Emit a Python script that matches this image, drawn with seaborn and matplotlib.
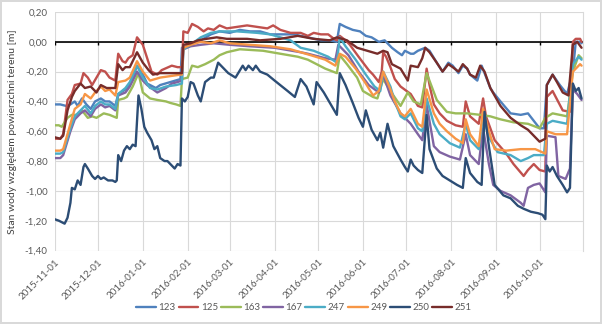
import matplotlib
matplotlib.use("Agg")
import matplotlib.pyplot as plt
import matplotlib.transforms as mtransforms
import seaborn as sns
import pandas as pd

START = pd.Timestamp("2015-11-01")
END_DAY = 365

series_names = ["123", "125", "163", "167", "247", "249", "250", "251"]
colors = ["#4F81BD", "#C0504D", "#9BBB59", "#8064A2", "#4BACC6", "#F79646", "#2C4D75", "#772C2A"]
tick_dates = ["2015-11-01", "2015-12-01", "2016-01-01", "2016-02-01", "2016-03-01", "2016-04-01",
              "2016-05-01", "2016-06-01", "2016-07-01", "2016-08-01", "2016-09-01", "2016-10-01"]
y_ticks = [0.20, 0.00, -0.20, -0.40, -0.60, -0.80, -1.00, -1.20, -1.40]
y_label = "Stan wody względem powierzchni terenu [m]"

# (day offset from 2015-11-01, water level [m])
s123 = [(0,-0.42),(4,-0.42),(8,-0.43),(11,-0.42),(14,-0.40),(16,-0.43),(19,-0.38),(22,-0.42),(25,-0.45),(28,-0.40),
        (32,-0.38),(35,-0.40),(38,-0.40),(42,-0.43),(44,-0.35),(49,-0.32),(52,-0.29),(57,-0.16),(61,-0.22),(64,-0.28),
        (70,-0.31),(73,-0.29),(80,-0.27),(87,-0.25),(88,-0.04),(94,-0.02),(101,0.01),(108,0.05),(114,0.07),(121,0.06),
        (128,0.08),(135,0.07),(142,0.07),(149,0.05),(156,0.05),(165,0.05),(175,0.03),(184,0.01),(190,0.01),(195,0.00),
        (197,0.12),(201,0.10),(206,0.08),(211,0.07),(215,0.04),(219,0.03),(224,0.00),(228,0.01),(233,-0.04),(237,-0.07),
        (240,-0.09),(242,-0.06),(246,-0.08),(248,-0.08),(251,-0.06),(256,-0.04),(259,-0.06),(264,-0.14),(268,-0.20),
        (272,-0.14),(275,-0.16),(279,-0.21),(282,-0.16),(285,-0.18),(287,-0.22),(292,-0.26),(295,-0.16),(297,-0.21),
        (301,-0.31),(303,-0.34),(308,-0.40),(315,-0.48),(322,-0.49),(327,-0.48),(331,-0.53),(335,-0.58),(338,-0.58),
        (340,-0.29),(344,-0.22),(349,-0.29),(354,-0.35),(358,-0.20),(360,0.00),(363,0.00),(364,-0.01)]

s125 = [(0,-0.65),(4,-0.65),(6,-0.62),(9,-0.39),(12,-0.35),(14,-0.29),(18,-0.28),(20,-0.21),(23,-0.24),(26,-0.29),
        (29,-0.24),(32,-0.19),(35,-0.20),(38,-0.24),(42,-0.26),(44,-0.08),(47,-0.13),(49,-0.14),(51,-0.11),(54,-0.09),
        (57,0.03),(61,-0.02),(64,-0.11),(67,-0.20),(71,-0.22),(74,-0.19),(81,-0.16),(85,-0.17),(88,-0.17),(89,0.07),
        (92,0.06),(95,0.12),(99,0.10),(103,0.07),(106,0.09),(110,0.08),(114,0.11),(119,0.09),(126,0.10),(133,0.11),
        (140,0.10),(147,0.09),(151,0.11),(156,0.08),(163,0.06),(170,0.06),(175,0.04),(179,0.06),(184,0.05),(189,0.05),
        (193,0.02),(195,0.01),(197,0.04),(201,0.01),(204,-0.02),(210,-0.10),(217,-0.19),(220,-0.22),(224,-0.27),
        (226,-0.20),(227,-0.07),(229,-0.10),(232,-0.17),(235,-0.25),(239,-0.30),(246,-0.35),(251,-0.43),(254,-0.44),
        (257,-0.18),(259,-0.29),(262,-0.42),(266,-0.48),(271,-0.53),(277,-0.56),(282,-0.57),(284,-0.40),(287,-0.50),
        (293,-0.55),(296,-0.38),(298,-0.50),(304,-0.66),(312,-0.75),(317,-0.82),(324,-0.90),(327,-0.86),(331,-0.82),
        (335,-0.86),(339,-0.87),(340,-0.37),(344,-0.33),(351,-0.46),(356,-0.47),(358,0.00),(360,0.02),(363,0.02),(364,0.00)]

s163 = [(0,-0.56),(3,-0.56),(5,-0.57),(7,-0.54),(9,-0.51),(12,-0.49),(16,-0.49),(19,-0.46),(23,-0.51),(26,-0.50),
        (29,-0.51),(34,-0.48),(38,-0.49),(43,-0.51),(44,-0.39),(48,-0.38),(50,-0.37),(54,-0.30),(58,-0.21),(61,-0.34),
        (66,-0.38),(71,-0.39),(77,-0.40),(80,-0.41),(84,-0.42),(87,-0.43),(88,-0.25),(92,-0.24),(95,-0.16),(99,-0.17),
        (104,-0.15),(110,-0.12),(114,-0.09),(119,-0.07),(128,-0.05),(144,-0.06),(156,-0.08),(168,-0.10),(175,-0.12),
        (179,-0.14),(187,-0.18),(195,-0.21),(197,-0.09),(202,-0.15),(209,-0.24),(213,-0.33),(220,-0.37),(223,-0.38),
        (227,-0.25),(232,-0.33),(239,-0.43),(244,-0.34),(248,-0.40),(253,-0.42),(257,-0.21),(264,-0.39),(271,-0.47),
        (277,-0.48),(285,-0.48),(294,-0.49),(301,-0.50),(308,-0.52),(317,-0.54),(327,-0.55),(335,-0.58),(339,-0.51),
        (344,-0.48),(354,-0.50),(358,-0.20),(362,-0.09),(364,-0.11)]

s167 = [(0,-0.78),(4,-0.78),(6,-0.76),(11,-0.60),(14,-0.52),(18,-0.48),(21,-0.46),(25,-0.50),(28,-0.45),(32,-0.42),
        (35,-0.44),(38,-0.43),(42,-0.46),(44,-0.36),(49,-0.34),(52,-0.30),(57,-0.20),(61,-0.26),(64,-0.29),(71,-0.34),
        (77,-0.31),(81,-0.28),(85,-0.27),(88,-0.26),(89,-0.05),(94,-0.03),(101,-0.02),(110,-0.01),(121,-0.02),(135,-0.03),
        (152,-0.04),(170,-0.07),(175,-0.08),(187,-0.11),(194,-0.12),(196,-0.02),(203,-0.09),(210,-0.20),(217,-0.29),
        (224,-0.34),(227,-0.22),(232,-0.36),(239,-0.48),(246,-0.55),(251,-0.62),(254,-0.66),(257,-0.42),(262,-0.70),
        (266,-0.74),(273,-0.77),(280,-0.79),(284,-0.62),(287,-0.76),(293,-0.82),(296,-0.58),(300,-0.82),(303,-0.96),
        (308,-1.00),(315,-1.03),(322,-1.08),(324,-1.10),(327,-0.98),(331,-0.96),(335,-0.95),(339,-1.01),(340,-0.63),
        (346,-0.64),(348,-0.90),(353,-0.92),(356,-0.85),(358,-0.32),(361,-0.35),(364,-0.39)]

s247 = [(0,-0.75),(4,-0.75),(6,-0.74),(11,-0.58),(14,-0.50),(18,-0.46),(21,-0.43),(25,-0.48),(28,-0.43),(32,-0.40),
        (35,-0.42),(38,-0.42),(42,-0.45),(44,-0.35),(49,-0.31),(52,-0.27),(57,-0.16),(61,-0.24),(66,-0.31),(71,-0.32),
        (77,-0.30),(84,-0.29),(88,-0.28),(89,-0.05),(94,-0.02),(101,0.03),(108,0.06),(114,0.07),(126,0.07),(140,0.06),
        (149,0.05),(156,0.03),(163,0.01),(170,-0.04),(179,-0.06),(189,-0.10),(195,-0.14),(197,0.03),(201,-0.03),
        (208,-0.12),(215,-0.22),(221,-0.30),(225,-0.33),(227,-0.20),(232,-0.30),(235,-0.40),(239,-0.50),(242,-0.52),
        (246,-0.48),(251,-0.58),(254,-0.60),(257,-0.38),(262,-0.55),(266,-0.62),(273,-0.68),(280,-0.71),(284,-0.55),
        (287,-0.66),(293,-0.72),(296,-0.50),(300,-0.64),(306,-0.74),(315,-0.76),(322,-0.80),(327,-0.78),(331,-0.76),
        (338,-0.76),(340,-0.55),(344,-0.53),(354,-0.55),(358,-0.15),(362,-0.10),(364,-0.12)]

s249 = [(0,-0.73),(4,-0.73),(6,-0.72),(11,-0.55),(14,-0.45),(18,-0.42),(21,-0.35),(25,-0.38),(28,-0.34),(32,-0.30),
        (35,-0.33),(38,-0.32),(42,-0.36),(44,-0.27),(49,-0.26),(52,-0.24),(57,-0.13),(61,-0.20),(66,-0.26),(73,-0.24),
        (80,-0.23),(87,-0.22),(88,-0.22),(89,-0.04),(94,-0.02),(101,0.00),(108,-0.01),(114,0.01),(121,-0.01),(135,-0.02),
        (149,-0.03),(163,-0.05),(177,-0.09),(187,-0.12),(194,-0.16),(197,-0.08),(201,-0.10),(208,-0.18),(215,-0.28),
        (220,-0.36),(224,-0.33),(227,-0.20),(232,-0.32),(235,-0.40),(239,-0.48),(242,-0.50),(246,-0.45),(251,-0.55),
        (254,-0.57),(257,-0.32),(262,-0.48),(266,-0.55),(271,-0.60),(277,-0.65),(282,-0.68),(284,-0.52),(287,-0.62),
        (293,-0.70),(296,-0.45),(300,-0.60),(304,-0.72),(312,-0.73),(322,-0.72),(332,-0.72),(339,-0.75),(340,-0.60),
        (346,-0.62),(354,-0.62),(358,-0.20),(363,-0.15),(364,-0.16)]

s250 = [(0,-1.19),(3,-1.20),(5,-1.21),(7,-1.22),(9,-1.18),(11,-1.08),(12,-0.98),(14,-0.99),(16,-0.93),(18,-0.96),
        (20,-0.84),(21,-0.82),(23,-0.85),(26,-0.90),(28,-0.92),(30,-0.90),(32,-0.92),(34,-0.91),(37,-0.93),(40,-0.93),
        (42,-0.94),(43,-0.93),(44,-0.76),(46,-0.80),(48,-0.73),(50,-0.70),(52,-0.72),(54,-0.69),(56,-0.70),(58,-0.36),
        (60,-0.45),(62,-0.57),(64,-0.61),(67,-0.66),(69,-0.72),(71,-0.70),(73,-0.78),(76,-0.80),(78,-0.80),(81,-0.83),
        (83,-0.85),(85,-0.82),(87,-0.83),(88,-0.38),(90,-0.40),(92,-0.37),(94,-0.27),(96,-0.28),(99,-0.36),(101,-0.40),
        (104,-0.27),(108,-0.24),(110,-0.24),(113,-0.14),(116,-0.17),(120,-0.21),(125,-0.24),(130,-0.16),(132,-0.19),
        (134,-0.16),(137,-0.19),(139,-0.16),(142,-0.20),(147,-0.22),(152,-0.26),(161,-0.33),(166,-0.37),(170,-0.25),
        (174,-0.30),(179,-0.42),(181,-0.27),(186,-0.34),(192,-0.44),(195,-0.49),(197,-0.21),(201,-0.29),(206,-0.41),
        (210,-0.51),(213,-0.57),(215,-0.46),(219,-0.59),(223,-0.66),(225,-0.61),(227,-0.71),(230,-0.55),(234,-0.70),
        (239,-0.79),(242,-0.84),(244,-0.87),(246,-0.79),(248,-0.83),(251,-0.86),(254,-0.88),(257,-0.49),(259,-0.72),
        (264,-0.85),(268,-0.90),(273,-0.93),(278,-0.96),(282,-0.98),(284,-0.78),(287,-0.88),(292,-0.94),(295,-0.96),
        (297,-0.47),(300,-0.70),(304,-0.96),(310,-1.03),(315,-1.05),(320,-1.10),(324,-1.12),(329,-1.14),(334,-1.15),
        (337,-1.16),(339,-1.19),(340,-0.83),(342,-0.87),(344,-0.84),(347,-0.90),(351,-0.96),(354,-1.01),(356,-0.98),
        (358,-0.28),(360,-0.33),(362,-0.31),(364,-0.38)]

s251 = [(0,-0.64),(4,-0.65),(6,-0.63),(9,-0.46),(12,-0.37),(14,-0.33),(18,-0.28),(21,-0.31),(25,-0.30),(29,-0.34),
        (32,-0.29),(36,-0.31),(42,-0.31),(44,-0.15),(47,-0.19),(49,-0.17),(52,-0.17),(56,-0.09),(57,-0.07),(61,-0.14),
        (65,-0.19),(68,-0.22),(73,-0.21),(80,-0.21),(87,-0.21),(88,-0.21),(89,-0.02),(94,-0.01),(99,0.01),(105,0.02),
        (112,0.03),(119,0.02),(126,0.02),(133,0.02),(142,0.01),(156,0.02),(168,0.04),(179,0.02),(190,0.01),(195,0.03),
        (202,0.01),(209,-0.04),(216,-0.06),(223,-0.08),(227,-0.06),(230,-0.07),(233,-0.15),(239,-0.18),(244,-0.26),
        (246,-0.16),(251,-0.17),(254,-0.11),(256,-0.04),(259,-0.07),(264,-0.14),(268,-0.20),(272,-0.15),(275,-0.17),
        (279,-0.20),(282,-0.15),(285,-0.18),(287,-0.22),(291,-0.24),(294,-0.16),(297,-0.20),(301,-0.31),(308,-0.43),
        (315,-0.51),(322,-0.56),(327,-0.59),(331,-0.63),(335,-0.67),(339,-0.65),(340,-0.29),(344,-0.22),(347,-0.27),
        (351,-0.34),(355,-0.36),(358,-0.02),(361,0.00),(364,-0.04)]

all_series = [s123, s125, s163, s167, s247, s249, s250, s251]

rows = []
for name, pts in zip(series_names, all_series):
    for d, v in pts:
        rows.append((START + pd.Timedelta(days=d), v, name))
df = pd.DataFrame(rows, columns=["date", "level", "well"])

sns.set_theme(style="white")
plt.rcParams["font.family"] = ["Lato", "DejaVu Sans"]
text_color = "#595959"
grid_color = "#D9D9D9"

W, H = 602, 324
fig = plt.figure(figsize=(W / 100, H / 100), dpi=100)
fig.patch.set_facecolor("white")
fig.patch.set_edgecolor("#D9D9D9")
fig.patch.set_linewidth(1.5)

L, R, T, B = 54.5, 583, 12, 250.5
ax = fig.add_axes([L / W, 1 - B / H, (R - L) / W, (B - T) / H])

sns.lineplot(data=df, x="date", y="level", hue="well", hue_order=series_names,
             palette=dict(zip(series_names, colors)), estimator=None, sort=True,
             linewidth=1.7, ax=ax, zorder=3)

ax.set_xlim(START, START + pd.Timedelta(days=END_DAY))
ax.set_ylim(-1.40, 0.20)

tick_dt = pd.to_datetime(tick_dates)
ax.set_xticks(tick_dt)
ax.set_xticklabels(tick_dates, rotation=45, ha="right", va="top", rotation_mode="anchor",
                   fontsize=7, color=text_color)
offset = mtransforms.ScaledTranslation(0.055, -0.02, fig.dpi_scale_trans)
for lbl in ax.get_xticklabels():
    lbl.set_transform(lbl.get_transform() + offset)
ax.set_yticks(y_ticks)
ax.set_yticklabels([f"{v:.2f}".replace(".", ",").replace("-0,00", "0,00") for v in y_ticks],
                   fontsize=7, color=text_color)
ax.tick_params(axis="x", length=0, pad=5)
ax.tick_params(axis="y", length=0, pad=5)

ax.grid(True, color=grid_color, linewidth=0.8)
ax.set_axisbelow(True)
for side in ["left", "top", "bottom"]:
    ax.spines[side].set_visible(False)
ax.spines["right"].set_color(grid_color)
ax.spines["right"].set_linewidth(0.8)

# horizontal axis line at 0 with month tick marks
ax.axhline(0, color="black", linewidth=1.2, zorder=2)
ax.vlines(tick_dt, -0.022, 0, color="black", linewidth=1.0, zorder=2)

ax.set_xlabel("")
ax.set_ylabel(y_label, fontsize=7.5, color="#404040")
ax.yaxis.set_label_coords((17 - L) / (R - L), 0.5)

handles, labels = ax.get_legend_handles_labels()
ax.get_legend().remove()
fig.legend(handles, labels, loc="center", bbox_to_anchor=(0.505, 1 - 308 / H), ncol=8,
           frameon=False, fontsize=7, handlelength=2.05, columnspacing=0.3, handletextpad=0.25,
           labelcolor=text_color)

fig.savefig("out.png", dpi=100)
